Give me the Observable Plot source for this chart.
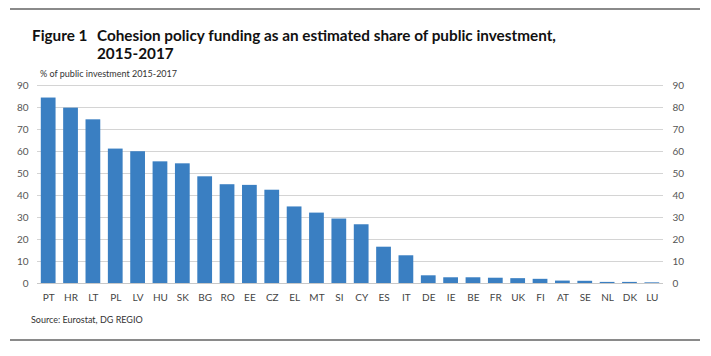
<!DOCTYPE html>
<html>
<head>
<meta charset="utf-8">
<script src="https://cdn.jsdelivr.net/npm/d3@7"></script>
<script src="https://cdn.jsdelivr.net/npm/@observablehq/plot@0.6"></script>
<style>
  html, body { margin: 0; padding: 0; background: #fff; }
  #wrap { position: relative; width: 711px; height: 356px; overflow: hidden; font-family: "Lato", "Liberation Sans", sans-serif; }
  .rule { position: absolute; left: 10px; width: 690px; height: 2px; background: #8a8a8a; }
  .title { position: absolute; left: 32px; top: 26px; font-size: 15.3px; font-weight: bold; color: #111; line-height: 18px; }
  .title .num { position: absolute; left: 0; top: 0; white-space: nowrap; }
  .title .txt { position: absolute; left: 65px; top: 0; white-space: nowrap; }
  .sub { position: absolute; left: 40px; top: 68px; font-size: 9px; color: #333; }
  .src { position: absolute; left: 31px; top: 314px; font-size: 9px; color: #333; }
  #chart { position: absolute; left: 0; top: 75px; }
</style>
</head>
<body>
<div id="wrap">
  <div class="rule" style="top:8px"></div>
  <div class="title"><span class="num">Figure 1</span><span class="txt">Cohesion policy funding as an estimated share of public investment,<br>2015-2017</span></div>
  <div class="sub">% of public investment 2015-2017</div>
  <div id="chart"></div>
  <div class="src">Source: Eurostat, DG REGIO</div>
  <div class="rule" style="top:339px"></div>
</div>
<script>
const countries = ["PT","HR","LT","PL","LV","HU","SK","BG","RO","EE","CZ","EL","MT","SI","CY","ES","IT","DE","IE","BE","FR","UK","FI","AT","SE","NL","DK","LU"];
const shares = [84.3,79.7,74.4,61.1,59.9,55.3,54.4,48.5,44.9,44.6,42.4,34.8,32.0,29.3,26.7,16.5,12.6,3.5,2.6,2.6,2.4,2.2,1.9,1.1,1.0,0.5,0.5,0.3];
const yTicks = [0,10,20,30,40,50,60,70,80,90];

const data = countries.map((c, i) => ({country: c, value: shares[i]}));

const chart = Plot.plot({
  width: 711,
  height: 230,
  marginTop: 10,
  marginBottom: 22,
  marginLeft: 37,
  marginRight: 48,
  style: {fontFamily: "Lato, 'Liberation Sans', sans-serif", fontSize: "10px", color: "#444", background: "transparent"},
  x: {domain: countries, paddingInner: 0.34, paddingOuter: 0.17, round: false, label: null},
  y: {domain: [0, 90], label: null},
  marks: [
    Plot.gridY(yTicks, {stroke: "#d4d4d4", strokeOpacity: 1, strokeWidth: 1}),
    Plot.barY(data, {x: "country", y: "value", fill: "#3a7fc2"}),
    Plot.ruleY([0], {stroke: "#c8c8c8", strokeWidth: 1}),
    Plot.axisY(yTicks, {anchor: "left", tickSize: 0, tickPadding: 9, label: null, fill: "#555"}),
    Plot.axisY(yTicks, {anchor: "right", tickSize: 0, tickPadding: 9, label: null, fill: "#555"}),
    Plot.axisX({tickSize: 0, tickPadding: 10, label: null, fill: "#444"})
  ]
});
document.getElementById("chart").appendChild(chart);
</script>
</body>
</html>
